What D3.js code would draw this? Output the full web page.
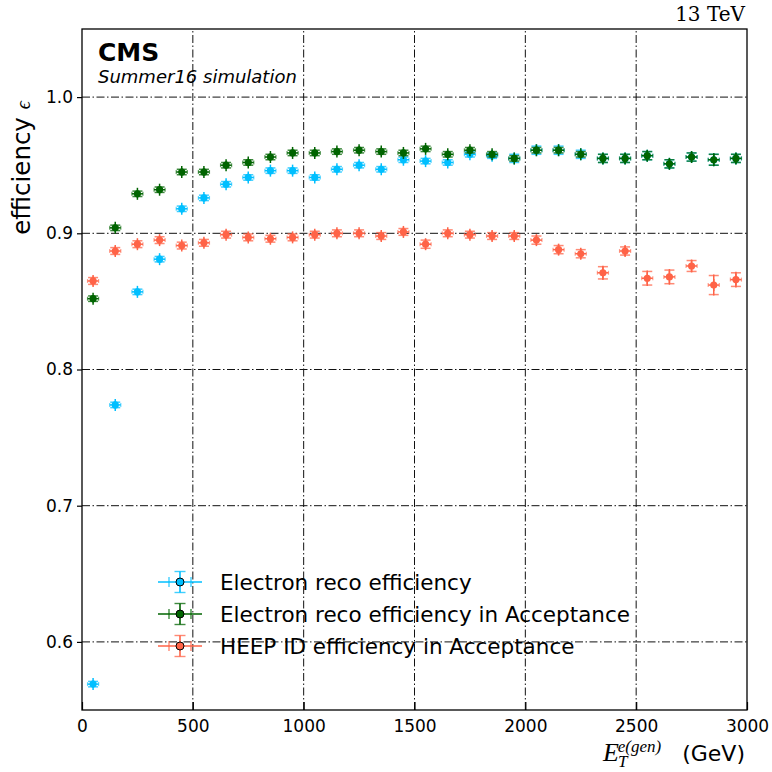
<!DOCTYPE html>
<html><head><meta charset="utf-8">
<script src="https://cdn.jsdelivr.net/npm/d3@7"></script>
<style>body{margin:0;background:#fff}svg{display:block}</style>
</head><body>
<svg id="chart" width="772" height="772"></svg>
<script>
const energy = [50,150,250,350,450,550,650,750,850,950,1050,1150,1250,1350,1450,1550,1650,1750,1850,1950,2050,2150,2250,2350,2450,2550,2650,2750,2850,2950];
const recoEff = [0.569,0.774,0.857,0.881,0.918,0.926,0.936,0.941,0.946,0.946,0.941,0.947,0.950,0.947,0.954,0.953,0.952,0.958,0.957,0.955,0.961,0.961,0.958,0.955,0.955,0.957,0.951,0.956,0.954,0.955];
const recoErr = [0.002,0.002,0.002,0.002,0.002,0.002,0.002,0.002,0.002,0.002,0.002,0.002,0.002,0.002,0.002,0.002,0.002,0.002,0.002,0.003,0.003,0.003,0.003,0.003,0.003,0.003,0.003,0.003,0.004,0.003];
const accEff = [0.852,0.904,0.929,0.932,0.945,0.945,0.950,0.952,0.956,0.959,0.959,0.960,0.961,0.960,0.959,0.962,0.958,0.961,0.958,0.955,0.961,0.961,0.958,0.955,0.955,0.957,0.951,0.956,0.954,0.955];
const accErr = [0.002,0.002,0.002,0.002,0.002,0.002,0.002,0.002,0.002,0.002,0.002,0.002,0.002,0.002,0.002,0.002,0.002,0.002,0.002,0.002,0.002,0.002,0.002,0.003,0.003,0.003,0.003,0.003,0.004,0.003];
const heepEff = [0.865,0.887,0.892,0.895,0.891,0.893,0.899,0.897,0.896,0.897,0.899,0.900,0.900,0.898,0.901,0.892,0.900,0.899,0.898,0.898,0.895,0.888,0.885,0.871,0.887,0.867,0.868,0.876,0.862,0.866];
const heepErr = [0.0025,0.0025,0.0025,0.0025,0.0025,0.0025,0.0025,0.0025,0.0025,0.0025,0.0025,0.0025,0.0025,0.0025,0.0025,0.003,0.0025,0.0025,0.0025,0.0025,0.003,0.003,0.003,0.0045,0.003,0.005,0.005,0.004,0.007,0.005];
const xHalfWidth = 25;
const seriesNames = ["Electron reco efficiency","Electron reco efficiency in Acceptance","HEEP ID efficiency in Acceptance"];
const seriesColors = ["#00bfff","#006400","#ff6347"];
const xTicks = [0,500,1000,1500,2000,2500,3000];
const yTicks = [0.6,0.7,0.8,0.9,1.0];

const series = [
  {name: seriesNames[0], color: seriesColors[0], vals: recoEff, errs: recoErr},
  {name: seriesNames[1], color: seriesColors[1], vals: accEff, errs: accErr},
  {name: seriesNames[2], color: seriesColors[2], vals: heepEff, errs: heepErr}
];

const svg = d3.select("#chart");
const L = 82, R = 747, T = 29, B = 710;
const x = d3.scaleLinear().domain([0,3000]).range([L,R]);
const y = d3.scaleLinear().domain([0.55,1.05]).range([B,T]);
const font = "DejaVu Sans, sans-serif";

// grid
const grid = svg.append("g").attr("stroke","#111").attr("stroke-width",1).attr("stroke-dasharray","8,2.5,1.5,2.5");
grid.selectAll("line.gx").data(xTicks.filter(d => d > 0 && d < 3000)).join("line")
  .attr("x1", d => x(d)).attr("x2", d => x(d)).attr("y1", B).attr("y2", T);
grid.selectAll("line.gy").data(yTicks).join("line")
  .attr("y1", d => y(d)).attr("y2", d => y(d)).attr("x1", L).attr("x2", R);

// data
series.forEach(s => {
  const g = svg.append("g");
  energy.forEach((e, i) => {
    const cx = x(e), cy = y(s.vals[i]);
    const y1 = y(s.vals[i] - s.errs[i]), y2 = y(s.vals[i] + s.errs[i]);
    const xa = x(e - xHalfWidth), xb = x(e + xHalfWidth);
    g.append("line").attr("x1",cx).attr("x2",cx).attr("y1",y1 + 1).attr("y2",y2 - 1).attr("stroke",s.color).attr("stroke-width",1.5);
    g.append("line").attr("x1",cx).attr("x2",cx).attr("y1",cy - 6).attr("y2",cy + 6).attr("stroke",s.color).attr("stroke-width",1.5);
    g.append("line").attr("x1",cx-5).attr("x2",cx+5).attr("y1",y1).attr("y2",y1).attr("stroke",s.color).attr("stroke-width",1.5).attr("opacity",0.75);
    g.append("line").attr("x1",cx-5).attr("x2",cx+5).attr("y1",y2).attr("y2",y2).attr("stroke",s.color).attr("stroke-width",1.5).attr("opacity",0.75);
    g.append("line").attr("x1",xa).attr("x2",xb).attr("y1",cy).attr("y2",cy).attr("stroke",s.color).attr("stroke-width",1.5);
    g.append("line").attr("x1",xa).attr("x2",xa).attr("y1",cy-2).attr("y2",cy+2).attr("stroke",s.color).attr("stroke-width",1.2).attr("opacity",0.6);
    g.append("line").attr("x1",xb).attr("x2",xb).attr("y1",cy-2).attr("y2",cy+2).attr("stroke",s.color).attr("stroke-width",1.2).attr("opacity",0.6);
    g.append("circle").attr("cx",cx).attr("cy",cy).attr("r",3.6).attr("fill",s.color);
  });
});

// axes
const xAxis = d3.axisBottom(x).tickValues(xTicks).tickSize(-8).tickPadding(10).tickFormat(d3.format("d"));
const yAxis = d3.axisLeft(y).tickValues(yTicks).tickSize(5).tickPadding(4).tickFormat(d3.format(".1f"));
const gx = svg.append("g").attr("transform",`translate(0,${B})`).call(xAxis);
const gy = svg.append("g").attr("transform",`translate(${L},0)`).call(yAxis);
[gx, gy].forEach(g => {
  g.select(".domain").remove();
  g.selectAll("text").attr("font-family",font).attr("font-size",17).attr("fill","#000");
  g.selectAll(".tick line").attr("stroke","#000").attr("stroke-width",1.2);
});
svg.append("rect").attr("x",L).attr("y",T).attr("width",R-L).attr("height",B-T)
  .attr("fill","none").attr("stroke","#000").attr("stroke-width",1.3);

// labels
svg.append("text").attr("x",98).attr("y",61).attr("font-family",font).attr("font-weight","bold").attr("font-size",25).text("CMS");
svg.append("text").attr("x",98).attr("y",83).attr("font-family",font).attr("font-style","italic").attr("font-size",18).text("Summer16 simulation");
svg.append("text").attr("x",745).attr("y",21).attr("text-anchor","end").attr("font-family","DejaVu Serif, serif").attr("font-size",20).text("13 TeV");

const yl = svg.append("text").attr("transform","translate(30,168) rotate(-90)").attr("text-anchor","middle")
  .attr("font-family",font).attr("font-size",24.5);
yl.append("tspan").text("efficiency ");
yl.append("tspan").attr("font-family","Liberation Serif, serif").attr("font-style","italic").attr("font-size",20).text("ϵ");

const xl = svg.append("text").attr("x",745).attr("y",761).attr("text-anchor","end").attr("font-size",26);
xl.append("tspan").attr("font-family","Liberation Serif, serif").attr("font-style","italic").text("E");
xl.append("tspan").attr("font-family","Liberation Serif, serif").attr("font-style","italic").attr("font-size",17).attr("dx",-1).attr("dy",6).text("T");
xl.append("tspan").attr("font-family","Liberation Serif, serif").attr("font-style","italic").attr("font-size",17).attr("dx",-8).attr("dy",-15).text("e(gen)");
xl.append("tspan").attr("font-family",font).attr("font-size",22).attr("dy",9).text("\u00a0\u00a0\u00a0(GeV)");

// legend
const legRows = [582, 614, 646];
series.forEach((s, i) => {
  const cy = legRows[i], cx = 180;
  const g = svg.append("g");
  g.append("line").attr("x1",cx-22).attr("x2",cx+22).attr("y1",cy).attr("y2",cy).attr("stroke",s.color).attr("stroke-width",1.6);
  g.append("line").attr("x1",cx-11).attr("x2",cx-11).attr("y1",cy-5).attr("y2",cy+5).attr("stroke",s.color).attr("stroke-width",1.4).attr("opacity",0.75);
  g.append("line").attr("x1",cx+11).attr("x2",cx+11).attr("y1",cy-5).attr("y2",cy+5).attr("stroke",s.color).attr("stroke-width",1.4).attr("opacity",0.75);
  g.append("line").attr("x1",cx).attr("x2",cx).attr("y1",cy-10.5).attr("y2",cy+10.5).attr("stroke",s.color).attr("stroke-width",1.6);
  g.append("line").attr("x1",cx-5.5).attr("x2",cx+5.5).attr("y1",cy-10.5).attr("y2",cy-10.5).attr("stroke",s.color).attr("stroke-width",1.4).attr("opacity",0.75);
  g.append("line").attr("x1",cx-5.5).attr("x2",cx+5.5).attr("y1",cy+10.5).attr("y2",cy+10.5).attr("stroke",s.color).attr("stroke-width",1.4).attr("opacity",0.75);
  g.append("circle").attr("cx",cx).attr("cy",cy).attr("r",4).attr("fill",s.color).attr("stroke","#000").attr("stroke-width",1);
  svg.append("text").attr("x",220).attr("y",cy+8).attr("font-family",font).attr("font-size",21.5).text(s.name);
});
</script>
</body></html>
